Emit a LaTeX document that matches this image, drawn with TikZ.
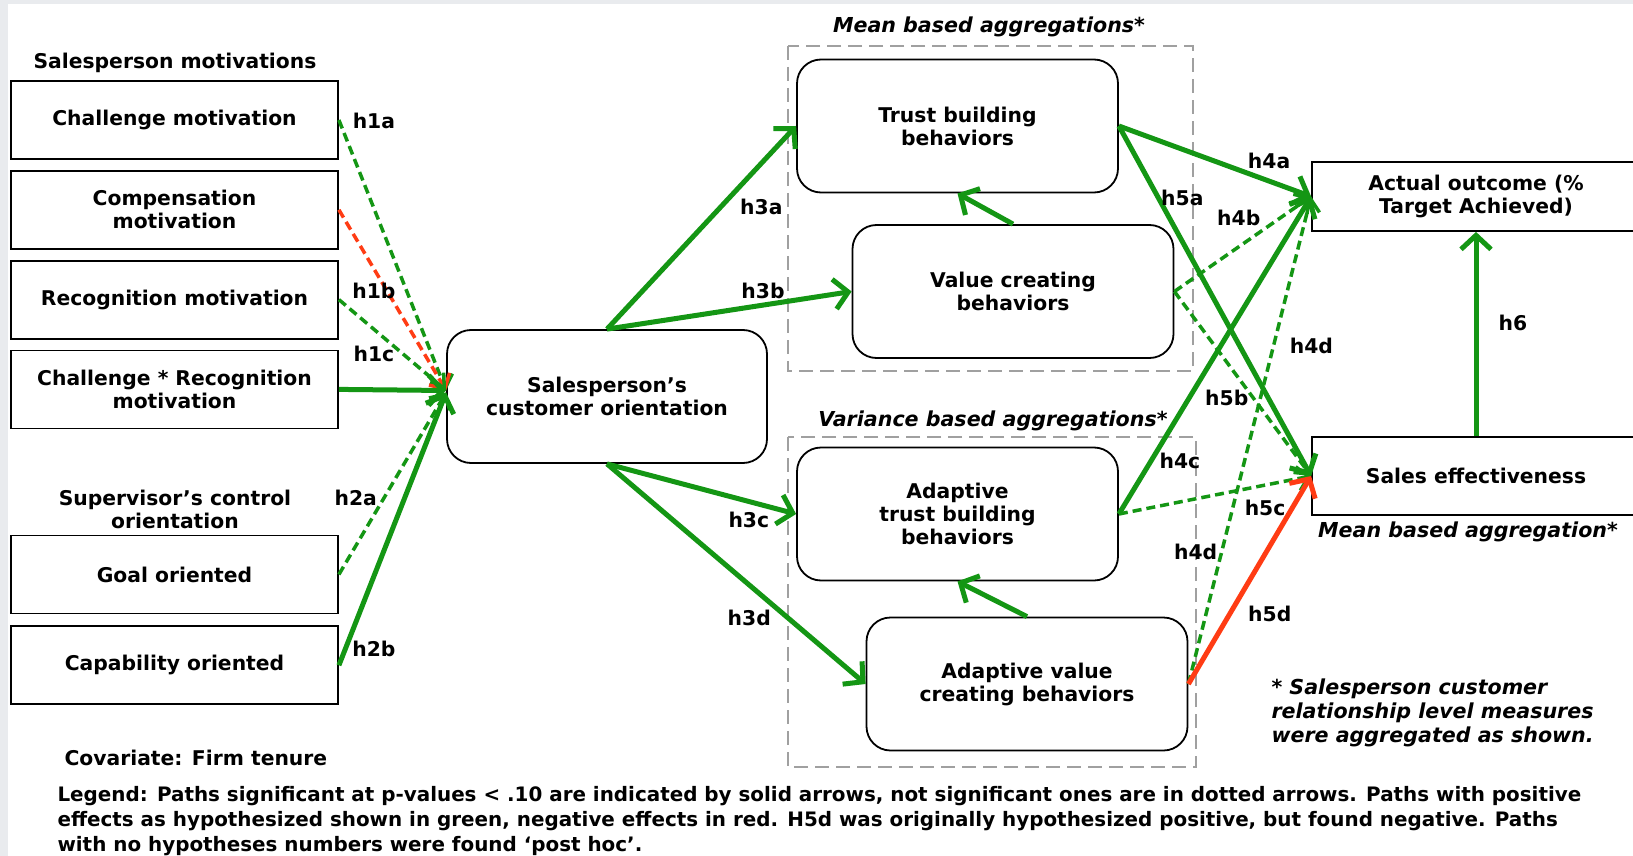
\documentclass[tikz,border=0pt]{standalone}
\usepackage{fontspec}
\setmainfont{DejaVu Sans}
\usepackage{xcolor}
\usepackage{tikz}
\usetikzlibrary{arrows.meta, positioning}

\definecolor{pathgreen}{RGB}{20,150,20}
\definecolor{pathred}{RGB}{255,60,20}
\definecolor{framegray}{RGB}{233,235,238}
\definecolor{groupgray}{RGB}{160,160,160}

\begin{document}
\begin{tikzpicture}[
        x=1pt, y=-1pt,
        every node/.style={font=\bfseries\fontsize{20.3}{23}\selectfont},
        construct/.style={draw, line width=1.8pt, rectangle, minimum width=327pt, minimum height=78pt, align=center},
        behavior/.style={draw, line width=1.8pt, rectangle, rounded corners=24pt, minimum width=321pt, minimum height=133pt, align=center},
        outcome/.style={draw, line width=1.8pt, rectangle, minimum width=328pt, align=center},
        aggbox/.style={draw=groupgray, line width=1.5pt, dash pattern=on 14pt off 7pt},
        remark/.style={font=\bfseries\itshape\fontsize{20.6}{24}\selectfont, align=left},
        hyp/.style={text=black, font=\bfseries\fontsize{20.3}{23}\selectfont, inner sep=1pt},
        sig/.style={-{Straight Barb[length=14pt, width=30pt]}, line width=5pt, pathgreen},
        nonsig/.style={-{Straight Barb[length=11pt, width=24pt]}, line width=3.5pt, pathgreen, dash pattern=on 9pt off 5pt},
        signeg/.style={sig, pathred},
        nonsigneg/.style={nonsig, pathred}
    ]
        \useasboundingbox (0,0) rectangle (1633,856);
        \fill[framegray] (0,0) rectangle (1633,856);
        \fill[white] (8,4) rectangle (1633,856);

        % Nodes
            \node (motivTitle) at (175,63) {Salesperson motivations};
            \node[construct] (challenge) at (174.5,120) {Challenge motivation};
            \node[construct, below=10pt of challenge] (compensation) {Compensation\\motivation};
            \node[construct, below=10pt of compensation] (recognition) {Recognition motivation};
            \node[construct, below=10pt of recognition] (interaction) {Challenge * Recognition\\motivation};
            \node[align=center] (controlTitle) at (175,509) {Supervisor’s control\\orientation};
            \node[construct] (goal) at (174.5,574.5) {Goal oriented};
            \node[construct, below=11pt of goal] (capability) {Capability oriented};
            \node[anchor=west] (covariate) at (61,758) {Covariate: Firm tenure};

            \node[behavior, minimum width=320pt] (custOrient) at (607,396.5) {Salesperson’s\\customer orientation};

            \draw[aggbox] (788,46) rectangle (1193,371);
            \draw[aggbox] (788,437) rectangle (1196,767);
            \node[remark] (meanTitle) at (989,27) {Mean based aggregations*};
            \node[remark] (varTitle) at (993,421) {Variance based aggregations*};

            \node[behavior] (trust) at (957.5,126) {Trust building\\behaviors};
            \node[behavior] (value) at (1013,291.5) {Value creating\\behaviors};
            \node[behavior] (adTrust) at (957.5,514) {Adaptive\\trust building\\behaviors};
            \node[behavior] (adValue) at (1027,684) {Adaptive value\\creating behaviors};

            \node[outcome, minimum height=69pt] (actual) at (1476,196.5) {Actual outcome (\%\\Target Achieved)};
            \node[outcome, minimum height=78pt] (salesEff) at (1476,476) {Sales effectiveness};
            \node[remark] (seNote) at (1468,532) {Mean based aggregation*};
            \node[remark, anchor=west] (aggNote) at (1268,713) {* Salesperson customer\\relationship level measures\\were aggregated as shown.};

            \node[anchor=west, align=left, font=\bfseries\fontsize{19.9}{25}\selectfont] (legend) at (54,821) {Legend: Paths significant at p-values < .10 are indicated by solid arrows, not significant ones are in dotted arrows. Paths with positive\\effects as hypothesized shown in green, negative effects in red. H5d was originally hypothesized positive, but found negative. Paths\\with no hypotheses numbers were found ‘post hoc’.};

            % Arrows
            \draw[nonsig] (challenge.east) -- ([yshift=6pt]custOrient.west) node[hyp, pos=0, xshift=35pt, yshift=-1pt] {h1a};
            \draw[nonsigneg] (compensation.east) -- ([yshift=6pt]custOrient.west);
            \draw[nonsig] (recognition.east) -- ([yshift=6pt]custOrient.west) node[hyp, pos=0, xshift=35pt, yshift=9pt] {h1b};
            \draw[sig] (interaction.east) -- ([yshift=6pt]custOrient.west) node[hyp, pos=0, xshift=35pt, yshift=35pt] {h1c};
            \draw[nonsig] (goal.east) -- ([yshift=4pt]custOrient.west) node[hyp, pos=.4, xshift=-26pt, yshift=4pt] {h2a};
            \draw[sig] (capability.east) -- ([yshift=4pt]custOrient.west) node[hyp, pos=0, xshift=35pt, yshift=16pt] {h2b};

            \draw[sig] (custOrient.north) -- (trust.west) node[hyp, pos=.7, xshift=22pt, yshift=-20pt] {h3a};
            \draw[sig] (custOrient.north) -- (value.west) node[hyp, pos=.65, xshift=-3pt, yshift=14pt] {h3b};
            \draw[sig] (custOrient.south) -- (adTrust.west) node[hyp, pos=.75, yshift=-18pt] {h3c};
            \draw[sig] (custOrient.south) -- (adValue.west) node[hyp, pos=.55, yshift=-33pt] {h3d};
            \draw[sig] (value.north) -- (trust.south);
            \draw[sig] (adValue.north) -- (adTrust.south);

            \draw[sig] (trust.east) -- (actual.west) node[hyp, pos=.75, xshift=6pt, yshift=18pt] {h4a};
            \draw[sig] (trust.east) -- (salesEff.west) node[hyp, pos=.2, xshift=25pt, yshift=-2pt] {h5a};
            \draw[nonsig] (value.east) -- (actual.west) node[hyp, pos=.5, xshift=-4pt, yshift=26pt] {h4b};
            \draw[nonsig] (value.east) -- (salesEff.west) node[hyp, pos=.5, xshift=-16pt, yshift=-14pt] {h5b};
            \draw[sig] (adTrust.east) -- (actual.west) node[hyp, pos=.25, xshift=13pt, yshift=-26pt] {h4c};
            \draw[nonsig] (adTrust.east) -- (salesEff.west) node[hyp, pos=.75, xshift=2pt, yshift=-22pt] {h5c};
            \draw[nonsig] (adValue.east) -- (actual.west) node[hyp, pos=.693, xshift=38pt] {h4d} node[hyp, pos=.271, xshift=-26pt] {h4d};
            \draw[signeg] (adValue.east) -- (salesEff.west) node[hyp, pos=.337, xshift=40pt] {h5d};
            \draw[sig] (salesEff.north) -- (actual.south) node[hyp, midway, xshift=37pt, yshift=11pt] {h6};
\end{tikzpicture}
\end{document}
